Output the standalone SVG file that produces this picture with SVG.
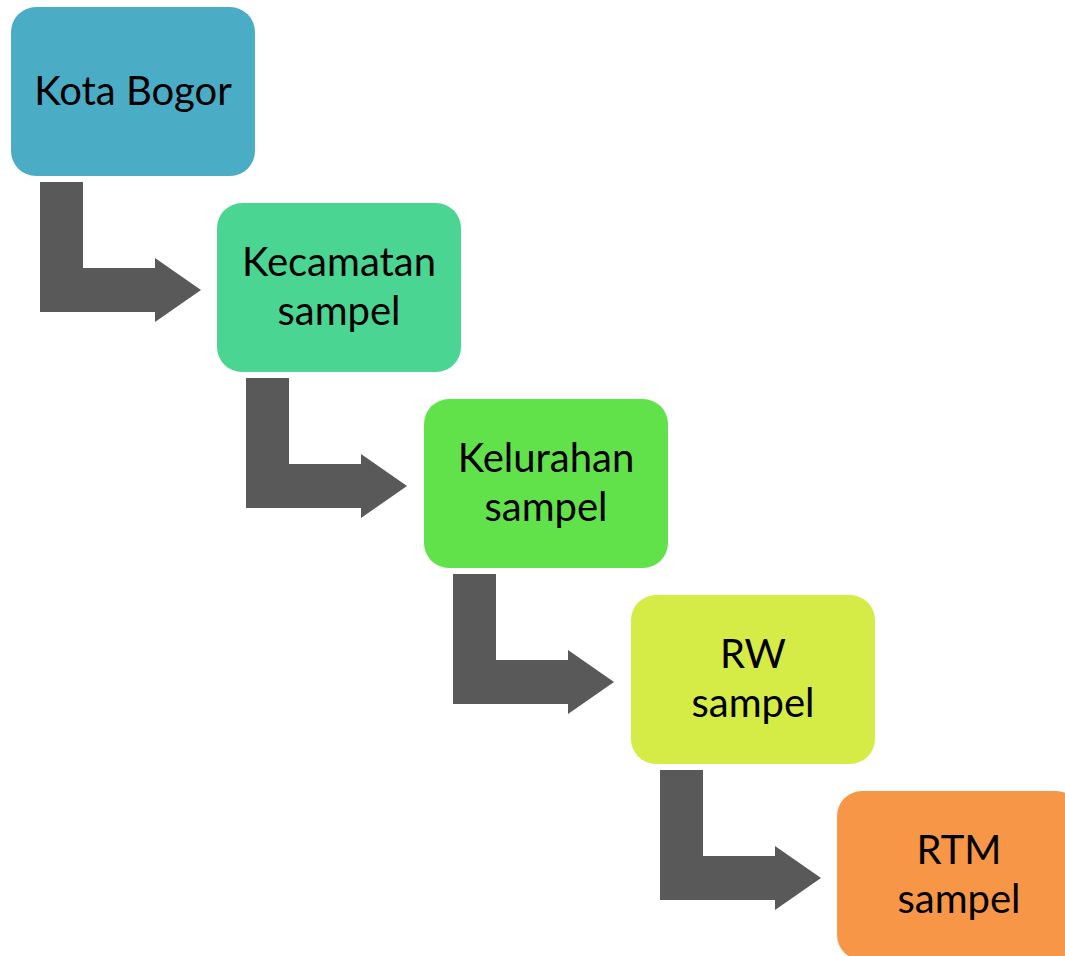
<svg xmlns="http://www.w3.org/2000/svg" width="1065" height="956" viewBox="0 0 1065 956">
<defs>
<style>
.box{stroke:none}
.t{font-family:Lato,"Open Sans","Liberation Sans",sans-serif;font-size:40px;fill:#000;text-anchor:middle}
.arr{fill:#595959}
</style>
<path id="ar" d="M0,0 H43 V86 H115 V76 L161,108 L115,140 V130 H0 Z"/>
</defs>
<rect width="1065" height="956" fill="#fff"/>
<g id="connectors" class="arr">
<use href="#ar" x="40" y="182"/>
<use href="#ar" x="246" y="378"/>
<use href="#ar" x="453" y="574"/>
<use href="#ar" x="660" y="770"/>
</g>
<g id="n1">
<rect class="box" x="11" y="7" width="244" height="169" rx="25" fill="#4BACC6"/>
<text class="t" x="133" y="105">Kota Bogor</text>
</g>
<g id="n2">
<rect class="box" x="217" y="203" width="244" height="169" rx="25" fill="#4AD593"/>
<text class="t" x="339" y="276">Kecamatan</text>
<text class="t" x="339" y="325">sampel</text>
</g>
<g id="n3">
<rect class="box" x="424" y="399" width="244" height="169" rx="25" fill="#62E24A"/>
<text class="t" x="546" y="472">Kelurahan</text>
<text class="t" x="546" y="521">sampel</text>
</g>
<g id="n4">
<rect class="box" x="631" y="595" width="244" height="169" rx="25" fill="#D4EC45"/>
<text class="t" x="753" y="668">RW</text>
<text class="t" x="753" y="717">sampel</text>
</g>
<g id="n5">
<rect class="box" x="837" y="791" width="244" height="169" rx="25" fill="#F79646"/>
<text class="t" x="959" y="864">RTM</text>
<text class="t" x="959" y="913">sampel</text>
</g>
</svg>
